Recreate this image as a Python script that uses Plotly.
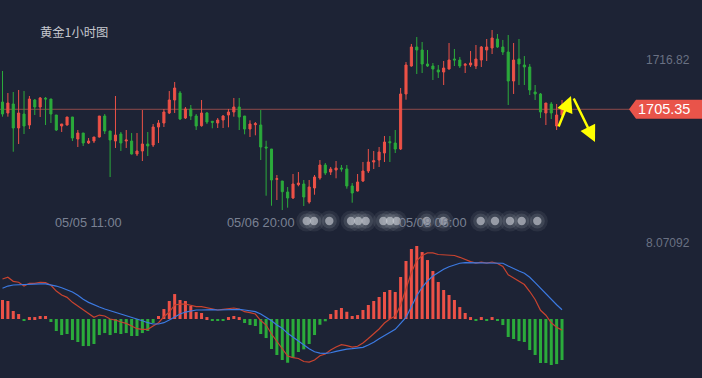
import plotly.graph_objects as go

# ---------------- data ----------------
title_text = "黄金1小时图"
idx = list(range(105))

opens = [1707.04, 1704.49, 1706.58, 1701.00, 1704.25, 1701.69, 1707.51, 1705.88, 1707.91, 1707.74,
         1704.02, 1701.46, 1701.69, 1703.56, 1698.44, 1699.83, 1697.51, 1697.97, 1698.90, 1703.79,
         1700.30, 1697.97, 1699.60, 1697.97, 1697.97, 1694.95, 1695.65, 1697.28, 1697.04, 1701.23,
         1702.16, 1704.49, 1707.51, 1709.14, 1703.32, 1705.42, 1703.79, 1701.53, 1704.49, 1702.56,
         1702.16, 1702.86, 1704.02, 1704.72, 1705.88, 1703.79, 1700.76, 1701.77, 1701.69, 1696.58,
         1696.11, 1689.06, 1688.67, 1686.11, 1684.72, 1687.81, 1687.97, 1683.78, 1687.04, 1689.37,
         1692.39, 1690.76, 1691.23, 1691.69, 1691.46, 1687.51, 1686.34, 1688.67, 1691.00, 1693.09,
         1693.55, 1695.18, 1697.81, 1697.51, 1696.11, 1708.91, 1715.42, 1719.84, 1719.14, 1715.88,
         1715.42, 1714.49, 1714.02, 1714.72, 1717.05, 1716.81, 1715.58, 1715.65, 1715.42, 1716.81,
         1719.14, 1719.61, 1721.70, 1719.84, 1718.67, 1711.93, 1717.05, 1715.65, 1715.19, 1709.37,
         1708.91, 1704.49, 1706.58, 1701.46, 1704.02]
highs = [1714.26, 1709.14, 1709.37, 1709.84, 1709.60, 1708.44, 1707.74, 1708.21, 1708.21, 1707.74,
         1704.02, 1701.93, 1703.56, 1703.56, 1700.53, 1699.83, 1698.67, 1698.90, 1703.79, 1704.25,
         1700.30, 1708.44, 1700.07, 1700.53, 1699.83, 1699.83, 1705.18, 1700.07, 1701.93, 1702.86,
         1705.42, 1709.60, 1711.70, 1709.60, 1705.88, 1706.35, 1704.25, 1707.51, 1704.72, 1702.63,
         1703.32, 1704.02, 1705.42, 1707.98, 1707.98, 1703.79, 1702.79, 1702.39, 1705.18, 1698.04,
         1696.11, 1690.06, 1688.67, 1687.27, 1690.30, 1690.76, 1688.90, 1688.90, 1690.06, 1693.55,
         1692.86, 1691.93, 1693.32, 1692.39, 1692.39, 1688.20, 1690.30, 1693.09, 1696.11, 1695.65,
         1696.58, 1699.14, 1699.14, 1700.53, 1710.30, 1716.35, 1720.54, 1722.16, 1721.00, 1719.14,
         1716.12, 1715.65, 1716.58, 1720.77, 1719.37, 1717.51, 1716.12, 1718.91, 1720.30, 1720.07,
         1721.70, 1723.79, 1722.86, 1721.47, 1722.63, 1720.77, 1721.70, 1717.74, 1715.88, 1711.00,
         1709.14, 1706.81, 1707.04, 1706.58, 1707.51]
lows = [1703.63, 1703.63, 1695.48, 1697.28, 1699.60, 1700.76, 1704.02, 1703.56, 1701.69, 1702.16,
        1700.30, 1700.07, 1701.58, 1697.97, 1696.58, 1696.81, 1697.28, 1697.51, 1698.79, 1699.60,
        1689.60, 1696.35, 1695.65, 1696.35, 1694.83, 1694.48, 1693.32, 1694.48, 1696.58, 1697.51,
        1701.23, 1704.25, 1704.49, 1702.86, 1703.09, 1702.86, 1700.53, 1701.30, 1701.93, 1700.93,
        1701.00, 1701.00, 1701.16, 1703.63, 1700.53, 1699.53, 1698.90, 1699.30, 1693.55, 1685.25,
        1682.92, 1684.25, 1681.92, 1682.46, 1684.48, 1687.44, 1682.85, 1683.39, 1685.48, 1688.97,
        1690.06, 1690.06, 1689.30, 1690.83, 1686.88, 1683.62, 1686.22, 1688.44, 1690.53, 1691.46,
        1691.93, 1693.09, 1693.09, 1695.18, 1695.88, 1707.58, 1715.26, 1713.56, 1713.79, 1715.19,
        1712.16, 1712.63, 1711.00, 1714.60, 1715.42, 1714.95, 1713.79, 1715.19, 1714.72, 1715.19,
        1716.58, 1718.21, 1719.61, 1717.98, 1706.35, 1708.91, 1711.00, 1711.00, 1708.67, 1707.51,
        1703.32, 1701.69, 1703.09, 1700.53, 1703.56]
closes = [1704.25, 1706.81, 1701.00, 1704.49, 1701.46, 1707.74, 1705.88, 1707.98, 1707.74, 1704.25,
          1700.53, 1701.93, 1703.56, 1698.67, 1699.83, 1697.51, 1697.97, 1698.90, 1703.79, 1700.30,
          1698.21, 1699.37, 1697.51, 1698.21, 1694.95, 1695.65, 1697.28, 1696.81, 1701.23, 1702.16,
          1704.72, 1707.51, 1710.30, 1703.09, 1705.42, 1703.79, 1701.46, 1704.49, 1702.39, 1702.32,
          1702.86, 1703.79, 1704.72, 1705.88, 1703.56, 1700.76, 1701.93, 1702.00, 1696.58, 1696.35,
          1688.90, 1689.20, 1686.18, 1684.72, 1687.97, 1688.20, 1684.95, 1687.27, 1689.60, 1692.39,
          1690.53, 1691.46, 1691.69, 1691.46, 1687.51, 1685.88, 1688.44, 1691.00, 1693.09, 1693.39,
          1695.41, 1697.74, 1697.58, 1696.11, 1708.91, 1715.65, 1719.84, 1719.14, 1715.88, 1715.42,
          1714.72, 1714.02, 1714.95, 1716.81, 1716.81, 1715.42, 1715.81, 1716.12, 1717.05, 1719.84,
          1719.84, 1721.93, 1719.84, 1718.67, 1711.93, 1716.81, 1715.88, 1715.19, 1709.84, 1708.91,
          1704.72, 1706.81, 1704.49, 1704.02, 1705.35]

hist = [2.02, 1.91, 0.85, 0.53, -0.21, 0.21, 0.21, 0.32, 0.32, -0.32,
        -1.27, -1.70, -1.59, -2.23, -2.44, -2.87, -2.87, -2.65, -1.70, -1.49,
        -1.70, -1.49, -1.59, -1.49, -1.80, -1.80, -1.49, -1.27, -0.42, 0.32,
        1.06, 1.91, 2.65, 2.02, 1.91, 1.38, 0.74, 0.64, 0.21, -0.21,
        -0.21, -0.21, 0.21, 0.32, 0.21, -0.42, -0.64, -0.74, -1.59, -2.02,
        -3.18, -3.82, -4.35, -4.64, -4.14, -3.50, -3.22, -2.65, -1.70, -0.61,
        -0.24, 0.53, 0.96, 1.17, 0.77, 0.32, 0.42, 0.96, 1.49, 1.91,
        2.34, 2.87, 3.08, 2.87, 4.46, 6.16, 7.43, 7.75, 7.11, 6.26,
        5.10, 3.93, 3.08, 2.55, 2.02, 1.27, 0.64, 0.21, -0.21, 0.21,
        -0.21, 0.21, -0.21, -0.64, -1.91, -2.12, -2.34, -2.44, -3.29, -3.82,
        -4.67, -4.67, -4.88, -4.78, -4.35]
dif = [4.25, 4.43, 4.00, 3.90, 3.50, 3.79, 3.79, 3.90, 3.86, 3.58,
       2.97, 2.55, 2.30, 1.77, 1.38, 0.96, 0.53, 0.18, 0.42, 0.32,
       0.00, -0.11, -0.32, -0.46, -0.74, -1.03, -1.09, -1.09, -0.74, -0.39,
       0.24, 0.74, 1.49, 1.59, 1.59, 1.49, 1.31, 1.31, 1.17, 1.03,
       0.96, 1.03, 1.09, 1.17, 1.06, 0.78, 0.67, 0.53, -0.16, -0.64,
       -1.59, -2.34, -3.19, -3.93, -4.09, -4.19, -4.51, -4.57, -4.35, -3.90,
       -3.72, -3.29, -2.97, -2.72, -2.82, -2.99, -2.89, -2.55, -2.07, -1.59,
       -1.06, -0.42, 0.00, 0.32, 1.49, 3.19, 4.94, 6.21, 6.74, 7.01,
       7.01, 6.85, 6.80, 6.80, 6.74, 6.55, 6.29, 6.09, 5.93, 6.03,
       5.93, 6.05, 5.89, 5.58, 4.70, 4.35, 4.04, 3.66, 2.92, 2.07,
       0.93, 0.40, -0.40, -0.88, -1.18]
dea = [3.26, 3.50, 3.61, 3.64, 3.69, 3.69, 3.72, 3.72, 3.72, 3.64,
       3.50, 3.32, 3.11, 2.87, 2.52, 2.09, 1.77, 1.49, 1.27, 1.06,
       0.88, 0.74, 0.56, 0.42, 0.21, 0.00, -0.18, -0.39, -0.53, -0.53,
       -0.39, -0.11, 0.21, 0.53, 0.74, 0.88, 0.96, 0.96, 0.99, 0.99,
       0.96, 0.99, 0.99, 1.06, 1.03, 0.96, 0.88, 0.78, 0.53, 0.21,
       -0.18, -0.64, -0.99, -1.52, -1.94, -2.34, -2.76, -3.15, -3.47, -3.61,
       -3.64, -3.58, -3.43, -3.29, -3.19, -3.15, -3.11, -3.01, -2.76, -2.47,
       -2.09, -1.73, -1.45, -1.09, -0.46, 0.18, 1.31, 2.47, 3.37, 4.04,
       4.57, 4.96, 5.28, 5.55, 5.77, 5.92, 5.98, 5.98, 5.98, 5.98,
       5.98, 5.98, 5.98, 5.92, 5.63, 5.34, 5.10, 4.85, 4.43, 3.86,
       3.26, 2.73, 2.09, 1.52, 0.99]

tick_idx = [16, 48, 80]
tick_text = ["05/05 11:00", "05/06 20:00", "05/08 06:00"]
price_axis_label = 1716.82
macd_axis_label = 8.07092
last_price = closes[-1]

# ---------------- styles ----------------
W, H = 702, 378
BG = "#1d2335"
RED = "#ec5147"
GREEN = "#2bab3b"
PX0, PXS = 2.5, 5.38            # pixel position of first candle, pixels per candle
PRICE_RANGE = [1642.85, 1730.77]
MACD_RANGE = [-6.26, 33.86]
NUM_FONT = "Liberation Sans, Arial, sans-serif"

fig = go.Figure()
fig.add_trace(go.Candlestick(
    x=idx, open=opens, high=highs, low=lows, close=closes,
    increasing=dict(line=dict(color=RED, width=1), fillcolor=RED),
    decreasing=dict(line=dict(color=GREEN, width=1), fillcolor=GREEN),
    whiskerwidth=0, hoverinfo="skip", yaxis="y"))
fig.add_trace(go.Bar(
    x=idx, y=hist, width=0.56,
    marker=dict(color=[RED if v >= 0 else GREEN for v in hist], line=dict(width=0)),
    hoverinfo="skip", yaxis="y2"))
fig.add_trace(go.Scatter(x=idx, y=dif, mode="lines",
                         line=dict(color="#c8432f", width=1.2), hoverinfo="skip", yaxis="y2"))
fig.add_trace(go.Scatter(x=idx, y=dea, mode="lines",
                         line=dict(color="#3c7ae2", width=1.2), hoverinfo="skip", yaxis="y2"))

annotations = [
    dict(text=title_text, xref="paper", yref="paper", x=38 / W, y=1 - 32.5 / H,
         xanchor="left", yanchor="middle", showarrow=False,
         font=dict(family="Noto Sans CJK SC", size=12.3, color="#c6c8ce")),
    dict(text=f"{price_axis_label:.2f}", xref="paper", yref="y", x=692 / W, y=price_axis_label,
         xanchor="right", yanchor="middle", showarrow=False,
         font=dict(family=NUM_FONT, size=12, color="#6a7183")),
    dict(text=f"{macd_axis_label:.5f}", xref="paper", yref="y2", x=692 / W, y=macd_axis_label,
         xanchor="right", yanchor="middle", showarrow=False,
         font=dict(family=NUM_FONT, size=12, color="#6a7183")),
    dict(text=f"{last_price:.2f}", xref="paper", yref="y", x=692 / W, y=last_price,
         xanchor="right", yanchor="middle", showarrow=False,
         font=dict(family=NUM_FONT, size=14.5, color="#ffffff")),
    # yellow arrows
    dict(text="", xref="paper", yref="paper", x=571 / W, y=1 - 96 / H, ax=-13, ay=32,
         showarrow=True, arrowhead=2, arrowsize=1.3, arrowwidth=2.5, arrowcolor="#ffff00", standoff=0),
    dict(text="", xref="paper", yref="paper", x=595 / W, y=1 - 142 / H, ax=-22, ay=-45,
         showarrow=True, arrowhead=2, arrowsize=1.3, arrowwidth=2.5, arrowcolor="#ffff00", standoff=0),
]
for i, t in zip(tick_idx, tick_text):
    annotations.append(dict(text=t, xref="x", yref="paper", x=i, y=1 - 222.5 / H,
                            xanchor="center", yanchor="middle", showarrow=False,
                            font=dict(family=NUM_FONT, size=12.8, color="#7a8193")))

shapes = [
    dict(type="line", xref="paper", yref="y", x0=0, x1=630 / W, y0=last_price, y1=last_price,
         line=dict(color="#8e4a4a", width=1), layer="below"),
    dict(type="path", xref="paper", yref="y",
         path=(f"M {629 / W},{last_price} L {636 / W},{last_price + 2.2} L 1,{last_price + 2.2} "
               f"L 1,{last_price - 2.2} L {636 / W},{last_price - 2.2} Z"),
         fillcolor="#e9544a", line=dict(width=0), layer="below"),
]
# blurred watermark dots over the time axis
dot_x = [306.7, 314, 329.3, 351, 358.3, 365.7, 383.3, 390, 396.7, 426.7, 443.3,
         480.7, 495, 510, 521.7, 537.3]
for cx in dot_x:
    for r, col in [(10.5, "rgba(190,195,205,0.09)"), (7.5, "rgba(190,195,205,0.14)"),
                   (4.2, "rgba(205,208,216,0.62)")]:
        shapes.append(dict(type="circle", xref="paper", yref="paper",
                           xsizemode="pixel", ysizemode="pixel",
                           xanchor=cx / W, yanchor=1 - 221 / H,
                           x0=-r, x1=r, y0=-r, y1=r, fillcolor=col, line=dict(width=0)))

fig.update_layout(
    width=W, height=H, margin=dict(l=0, r=0, t=0, b=0),
    paper_bgcolor=BG, plot_bgcolor=BG, showlegend=False, boxgap=0.45,
    xaxis=dict(range=[(0 - PX0) / PXS, (W - PX0) / PXS], visible=False,
               rangeslider=dict(visible=False)),
    yaxis=dict(range=PRICE_RANGE, visible=False),
    yaxis2=dict(range=MACD_RANGE, overlaying="y", visible=False),
    annotations=annotations, shapes=shapes,
)

fig.write_html("out.html")
